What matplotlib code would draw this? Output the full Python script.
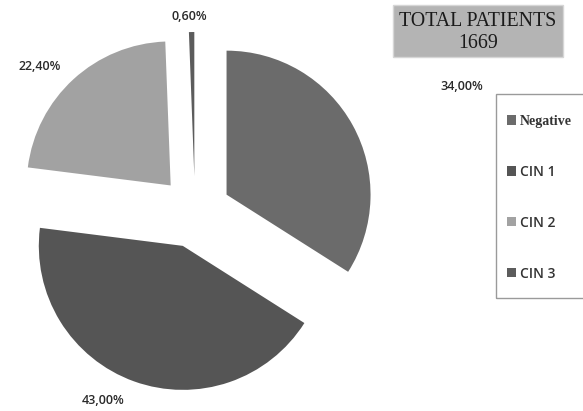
import matplotlib
matplotlib.use("Agg")
import matplotlib.pyplot as plt
from matplotlib.patches import Rectangle

categorias = ["Negative", "CIN 1", "CIN 2", "CIN 3"]
porcentajes = [34.00, 43.00, 22.40, 0.60]
etiquetas_pct = ["34,00%", "43,00%", "22,40%", "0,60%"]
total_pacientes = 1669

colores = ["#6b6b6b", "#555555", "#a2a2a2", "#5c5c5c"]
separacion = [0.25, 0.25, 0.25, 0.25]
# posicion de los textos de porcentaje (unidades del radio)
pos_etiquetas = [(1.85, 0.87), (-0.64, -1.31), (-1.08, 1.01), (-0.04, 1.36)]

W, H = 583, 411
fig = plt.figure(figsize=(W / 100, H / 100), dpi=100)
fig.patch.set_facecolor("white")

cx, cy, r = 195, 212, 144
ax = fig.add_axes([0, 0, 1, 1])
wedges, _ = ax.pie(porcentajes, colors=colores, explode=separacion,
                   startangle=90, counterclock=False,
                   wedgeprops=dict(linewidth=0))
ax.set_xlim(-cx / r, (W - cx) / r)
ax.set_ylim(-(H - cy) / r, cy / r)
ax.set_aspect("auto")
ax.axis("off")

for (x, y), txt in zip(pos_etiquetas, etiquetas_pct):
    ax.text(x, y, txt, ha="center", va="center", fontsize=9,
            family="Open Sans", fontweight="semibold", color="#2a2a2a")

# caja del total
fig.patches.append(Rectangle((393 / W, 1 - 57 / H), 170 / W, 52 / H,
                             transform=fig.transFigure, facecolor="#b4b4b4",
                             edgecolor="#d6d6d6", linewidth=1))
fig.text(478 / W, 1 - 21 / H, "TOTAL PATIENTS", ha="center", va="center",
         family="Liberation Serif", fontsize=14.3, color="#1a1a1a")
fig.text(478 / W, 1 - 44 / H, str(total_pacientes), ha="center", va="center",
         family="Liberation Serif", fontsize=14.3, color="#1a1a1a")

# marco de la leyenda (se sale por la derecha)
fig.patches.append(Rectangle((496 / W, 1 - 298 / H), 100 / W, 204 / H,
                             transform=fig.transFigure, facecolor="none",
                             edgecolor="#9a9a9a", linewidth=1))
leg = ax.legend(wedges, categorias, loc="upper left",
                bbox_to_anchor=(486 / W, 1 - 94 / H),
                bbox_transform=fig.transFigure, frameon=False, labelspacing=2.66,
                handlelength=0.65, handleheight=0.65, handletextpad=0.3,
                borderpad=1.5, borderaxespad=0,
                prop={"family": "Open Sans", "size": 10})
for t in leg.get_texts():
    t.set_color("#333333")
    t.set_fontweight("semibold")
t0 = leg.get_texts()[0]
t0.set_family("Liberation Serif")
t0.set_fontweight("bold")

fig.savefig("out.png", dpi=100, facecolor="white")
